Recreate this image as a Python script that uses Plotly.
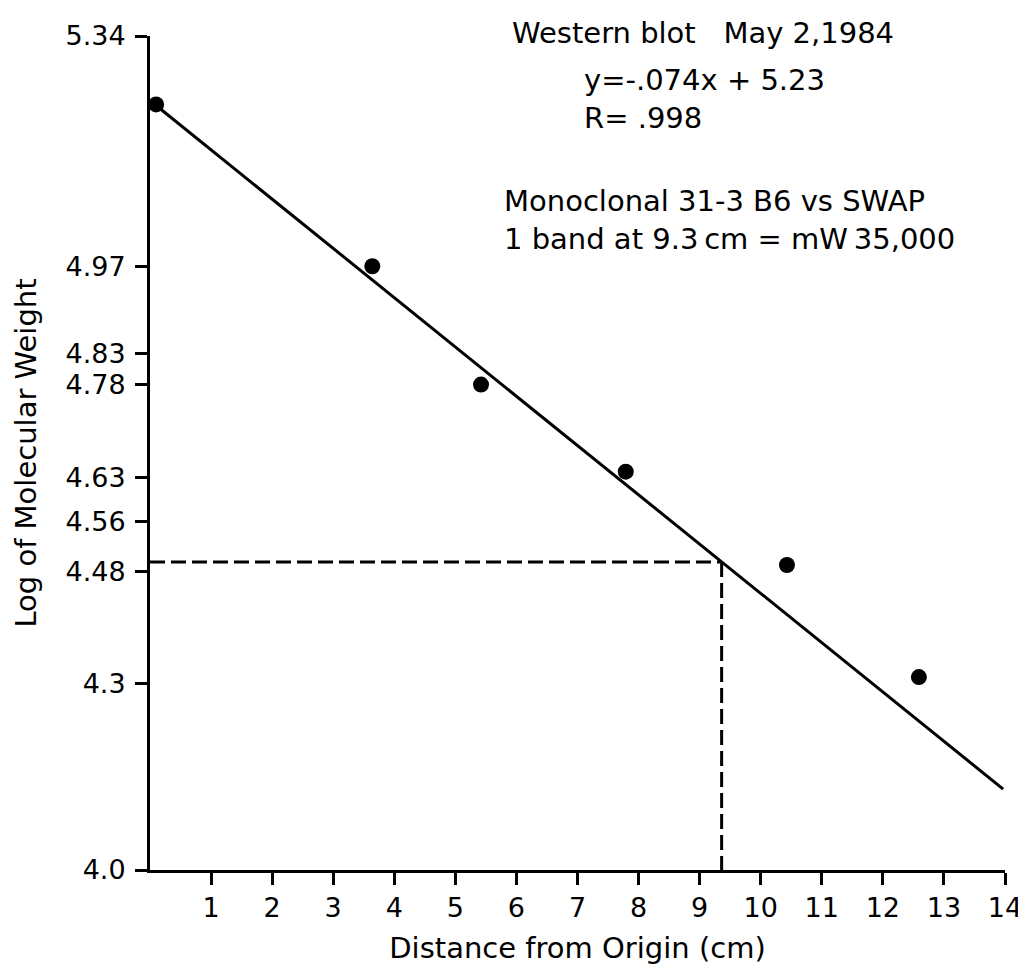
import plotly.graph_objects as go

# ---- data ----
dist_cm = [0.1, 3.64, 5.42, 7.79, 10.43, 12.59]
log_mw = [5.23, 4.97, 4.78, 4.64, 4.49, 4.31]

fit_x = [0.08, 13.97]
fit_y = [5.23, 4.13]

band_x = 9.36
band_log_mw = 4.495

x_ticks = list(range(1, 15))
y_ticks = [4.0, 4.3, 4.48, 4.56, 4.63, 4.78, 4.83, 4.97, 5.34]
y_ticktext = ["4.0", "4.3", "4.48", "4.56", "4.63", "4.78", "4.83", "4.97", "5.34"]

note_title = "Western blot\u00a0\u00a0\u00a0May 2,1984"
note_fit = "y=-.074x + 5.23<br>R= .998"
note_band = "Monoclonal 31-3 B6 vs SWAP<br>1 band at 9.3\u2009cm = mW\u200935,000"

FONT = "DejaVu Sans, Liberation Sans, Arial"
INK = "#000000"

fig = go.Figure()

# dashed reading lines
fig.add_trace(go.Scatter(
    x=[0, band_x], y=[band_log_mw, band_log_mw], mode="lines",
    line=dict(color=INK, width=3, dash="15px,6px"), hoverinfo="skip", showlegend=False))
fig.add_trace(go.Scatter(
    x=[band_x, band_x], y=[band_log_mw, 4.0], mode="lines",
    line=dict(color=INK, width=3, dash="15px,6px"), hoverinfo="skip", showlegend=False))

# fitted line
fig.add_trace(go.Scatter(
    x=fit_x, y=fit_y, mode="lines",
    line=dict(color=INK, width=3), showlegend=False))

# standards
fig.add_trace(go.Scatter(
    x=dist_cm, y=log_mw, mode="markers",
    marker=dict(color=INK, size=16), showlegend=False, cliponaxis=False))

# annotation text
for txt, ax, ay in [
    (note_title, 0.421, 1.003),
    (note_fit, 0.505, 0.925),
    (note_band, 0.412, 0.779),
]:
    fig.add_annotation(
        text=txt, x=ax, y=ay, xref="paper", yref="paper",
        xanchor="left", yanchor="middle", align="left", showarrow=False,
        font=dict(family=FONT, size=29, color=INK))

fig.update_layout(
    width=1026, height=980,
    margin=dict(l=142, r=25, t=24, b=118),
    paper_bgcolor="white", plot_bgcolor="white",
    font=dict(family=FONT, color=INK),
    showlegend=False,
)

fig.update_xaxes(
    range=[0, 14], tickvals=x_ticks, ticktext=[str(v) for v in x_ticks],
    showgrid=False, zeroline=False,
    showline=True, linecolor=INK, linewidth=3,
    ticks="outside", ticklen=12, tickwidth=3, tickcolor=INK,
    tickfont=dict(family=FONT, size=27, color=INK),
    ticklabelstandoff=0,
    title=dict(text="Distance from Origin (cm)", standoff=16,
               font=dict(family=FONT, size=29, color=INK)),
)
fig.update_yaxes(
    range=[4.0, 5.34], tickvals=y_ticks, ticktext=y_ticktext,
    showgrid=False, zeroline=False,
    showline=True, linecolor=INK, linewidth=3,
    ticks="outside", ticklen=12, tickwidth=3, tickcolor=INK,
    tickfont=dict(family=FONT, size=27, color=INK),
    ticklabelstandoff=4,
    title=dict(text="Log of Molecular Weight", standoff=21,
               font=dict(family=FONT, size=29, color=INK)),
)

fig.write_html("out.html")
